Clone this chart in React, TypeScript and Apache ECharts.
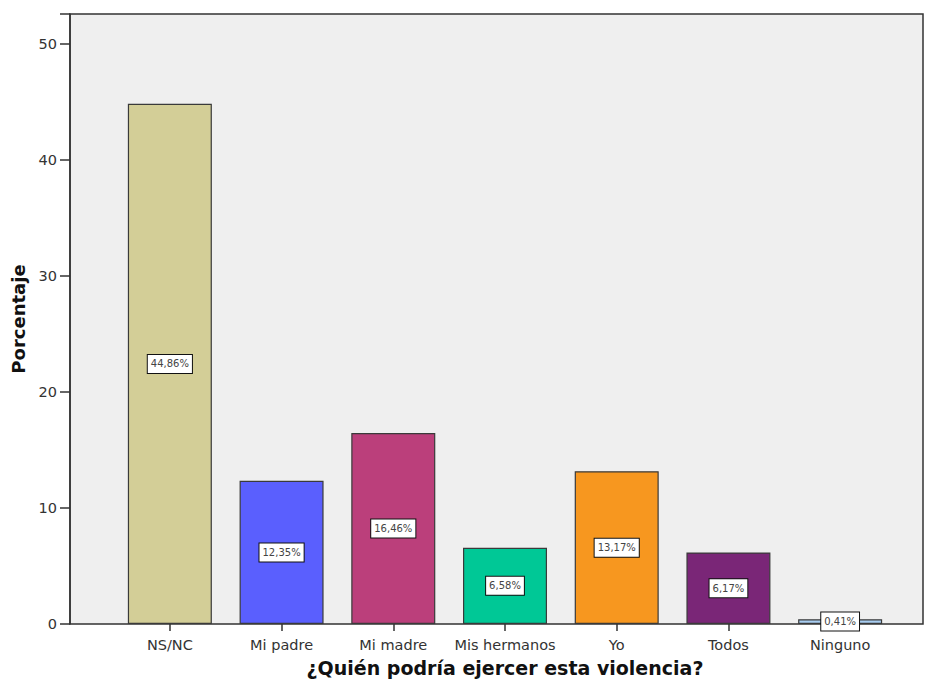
import React, { useEffect, useRef } from "react";
import * as echarts from "echarts";

const categories = ["NS/NC", "Mi padre", "Mi madre", "Mis hermanos", "Yo", "Todos", "Ninguno"];
const values = [44.86, 12.35, 16.46, 6.58, 13.17, 6.17, 0.41];
const labels = ["44,86%", "12,35%", "16,46%", "6,58%", "13,17%", "6,17%", "0,41%"];
const colors = ["#d3ce97", "#5a5ffe", "#bb3f7b", "#00c896", "#f7971f", "#7a2677", "#a8cdf0"];
const yTicks = [0, 10, 20, 30, 40, 50];

export default function App() {
  const ref = useRef<HTMLDivElement>(null);
  useEffect(() => {
    if (!ref.current) return;
    const chart = echarts.init(ref.current, null, { renderer: "svg" });
    const font = "'DejaVu Sans', Verdana, sans-serif";
    chart.setOption({
      animation: false,
      textStyle: { fontFamily: font },
      graphic: [
        {
          type: "rect",
          shape: { x: 70, y: 14, width: 853, height: 610 },
          style: { fill: "#efefef", stroke: "#333", lineWidth: 1.5 },
          z: -10,
          silent: true,
        },
      ],
      grid: { left: 114, right: 29, top: 14, bottom: 58, containLabel: false, outerBoundsMode: "none" },
      xAxis: {
        type: "category",
        data: categories,
        name: "¿Quién podría ejercer esta violencia?",
        nameLocation: "middle",
        nameGap: 34,
        nameTextStyle: { fontSize: 19, fontWeight: "bold", color: "#111", fontFamily: font },
        axisLine: { show: false },
        axisTick: { show: true, alignWithLabel: true, length: 7, lineStyle: { color: "#333", width: 1.5 } },
        axisLabel: { interval: 0, fontSize: 14.5, color: "#333", margin: 13, fontFamily: font },
      },
      yAxis: {
        type: "value",
        min: 0,
        max: 52.6,
        interval: 10,
        offset: 44,
        name: "Porcentaje",
        nameLocation: "middle",
        nameGap: 37,
        nameRotate: 90,
        nameTextStyle: { fontSize: 18, fontWeight: "bold", color: "#111", fontFamily: font },
        axisLine: { show: true, lineStyle: { color: "#333", width: 1.5 } },
        axisTick: { show: true, length: 10, lineStyle: { color: "#333", width: 1.5 } },
        axisLabel: {
          fontSize: 14.5,
          color: "#333",
          margin: 13,
          fontFamily: font,
          formatter: (v: number) => (yTicks.includes(v) ? String(v) : ""),
        },
        splitLine: { show: false },
      },
      series: [
        {
          type: "bar",
          barWidth: 84,
          data: values.map((v, i) => ({
            value: v,
            itemStyle: { color: colors[i], borderColor: "#3a3a3a", borderWidth: 1.2 },
          })),
          label: {
            show: true,
            position: "inside",
            formatter: (p: any) => labels[p.dataIndex],
            fontSize: 10,
            color: "#444",
            fontFamily: font,
            backgroundColor: "#fff",
            borderColor: "#111",
            borderWidth: 1,
            padding: [4, 3, 4, 3],
          },
        },
      ],
    });
    return () => chart.dispose();
  }, []);
  return <div ref={ref} style={{ width: 925, height: 682, position: "absolute", left: 0, top: 0 }} />;
}
